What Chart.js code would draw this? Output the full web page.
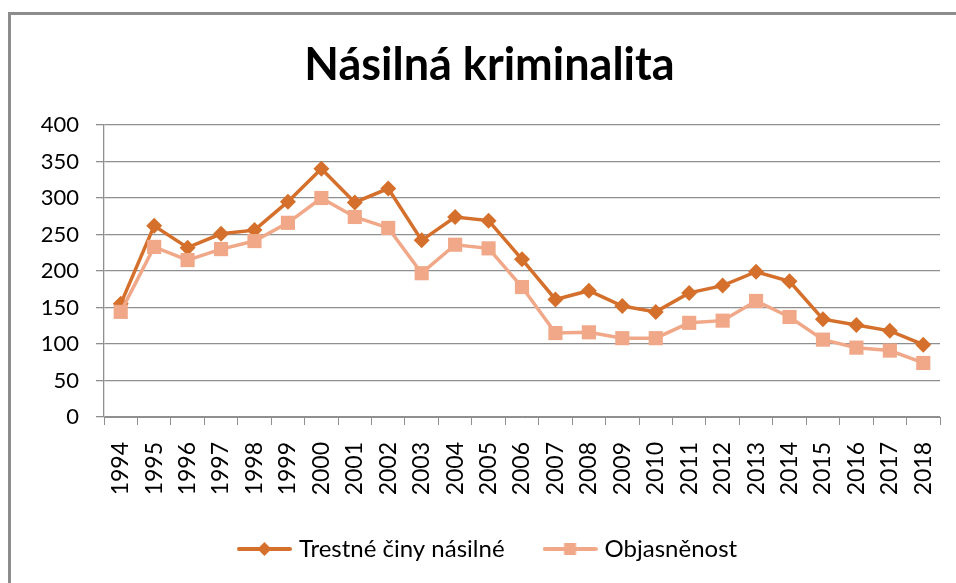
<!DOCTYPE html>
<html>
<head>
<meta charset="utf-8">
<script src="https://cdn.jsdelivr.net/npm/chart.js@4"></script>
<style>
  html, body { margin: 0; padding: 0; background: #fff; overflow: hidden; width: 956px; height: 583px; }
  .frame { position: absolute; left: 8px; top: 12px; width: 2000px; height: 2000px;
           border-left: 3px solid #8c8c8c; border-top: 3px solid #8c8c8c; }
  canvas { position: absolute; left: 0; top: 0; }
</style>
</head>
<body>
<div class="frame"></div>
<canvas id="chart" width="956" height="583"></canvas>
<script>
const years = ['1994', '1995', '1996', '1997', '1998', '1999', '2000', '2001', '2002', '2003',
  '2004', '2005', '2006', '2007', '2008', '2009', '2010', '2011', '2012', '2013',
  '2014', '2015', '2016', '2017', '2018'];
const trestneCiny = [155, 262, 232, 251, 256, 295, 340, 294, 313, 242,
  274, 269, 216, 161, 173, 152, 144, 170, 180, 199,
  186, 134, 126, 118, 99];
const objasnenost = [144, 233, 215, 230, 241, 266, 300, 274, 259, 197,
  236, 231, 178, 115, 116, 108, 108, 129, 132, 159,
  137, 106, 95, 91, 74];
const yTicks = [0, 50, 100, 150, 200, 250, 300, 350, 400];

const dark = '#D4702C';
const light = '#F0A888';
const gridColor = '#8f8f8f';

// legend icon: short line with the marker in the middle
function legendIcon(color, shape) {
  const c = document.createElement('canvas');
  c.width = 55; c.height = 16;
  const g = c.getContext('2d');
  g.strokeStyle = color; g.lineWidth = 4; g.lineCap = 'round';
  g.beginPath(); g.moveTo(2, 8); g.lineTo(53, 8); g.stroke();
  g.fillStyle = color;
  g.beginPath();
  if (shape === 'diamond') {
    g.moveTo(27.5, 1); g.lineTo(34.5, 8); g.lineTo(27.5, 15); g.lineTo(20.5, 8);
  } else {
    g.rect(21.5, 2, 12, 12);
  }
  g.closePath(); g.fill();
  return c;
}
const icons = [legendIcon(dark, 'diamond'), legendIcon(light, 'square')];

new Chart(document.getElementById('chart'), {
  type: 'line',
  data: {
    labels: years,
    datasets: [
      { label: 'Trestné činy násilné', data: trestneCiny, borderColor: dark, backgroundColor: dark,
        borderWidth: 3.5, pointStyle: 'rectRot', pointRadius: 8, pointBorderWidth: 0,
        pointBackgroundColor: dark, tension: 0, order: 1 },
      { label: 'Objasněnost', data: objasnenost, borderColor: light, backgroundColor: light,
        borderWidth: 3.5, pointStyle: 'rect', pointRadius: 10, pointBorderWidth: 0,
        pointBackgroundColor: light, tension: 0, order: 0 },
    ],
  },
  options: {
    responsive: false,
    animation: false,
    layout: { padding: { left: 39, right: 16, top: 12, bottom: 12 } },
    plugins: {
      title: {
        display: true, text: 'Násilná kriminalita', color: '#000',
        font: { family: 'Lato', size: 45, weight: 'bold' },
        padding: { top: 26, bottom: 33 },
      },
      legend: {
        position: 'bottom',
        labels: {
          usePointStyle: true, pointStyleWidth: 45, padding: 43, color: '#000',
          font: { family: 'Lato', size: 24 },
          generateLabels: (chart) => Chart.defaults.plugins.legend.labels.generateLabels(chart)
            .map(item => ({ ...item, pointStyle: icons[item.datasetIndex] })),
          sort: (a, b) => a.datasetIndex - b.datasetIndex,
        },
      },
      tooltip: { enabled: false },
    },
    scales: {
      x: {
        offset: true,
        grid: { offset: true, drawOnChartArea: false, drawTicks: true, tickLength: 8, color: gridColor },
        border: { color: gridColor },
        ticks: { maxRotation: 90, minRotation: 90, padding: 17, color: '#000',
          font: { family: 'Lato', size: 23 } },
        afterFit: (s) => { s.height = 77; s.paddingLeft = 0; s.paddingRight = 0; },
      },
      y: {
        min: 0, max: 400,
        afterBuildTicks: (s) => { s.ticks = yTicks.map(v => ({ value: v })); },
        grid: { color: gridColor, lineWidth: 1.3, tickLength: 8 },
        border: { color: gridColor, width: 1.3 },
        ticks: { padding: 17, color: '#000', font: { family: 'Lato', size: 22 } },
        afterFit: (s) => { s.width = 65; },
      },
    },
  },
});
</script>
</body>
</html>
